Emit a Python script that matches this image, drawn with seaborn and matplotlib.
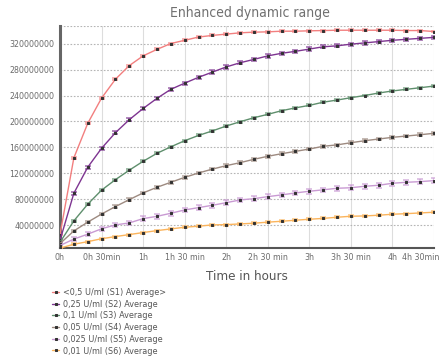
import matplotlib
matplotlib.use('Agg')
import matplotlib.pyplot as plt
import matplotlib.transforms as mtransforms
import seaborn as sns
import pandas as pd

# time in minutes, one reading every 10 min
minutes = [0, 10, 20, 30, 40, 50, 60, 70, 80, 90, 100, 110, 120, 130,
           140, 150, 160, 170, 180, 190, 200, 210, 220, 230, 240, 250, 260, 270]

labels = ['<0,5 U/ml (S1) Average>', '0,25 U/ml (S2) Average', '0,1 U/ml (S3) Average',
          '0,05 U/ml (S4) Average', '0,025 U/ml (S5) Average', '0,01 U/ml (S6) Average']

# values in millions
s1 = [26, 144, 197, 236, 265, 286, 301, 311, 320, 325, 330, 332.5, 334.5, 336.5,
      337.5, 338, 339, 339, 339.6, 340, 340.5, 340.5, 340.5, 340.5, 340.5, 340, 340, 338.5]
s2 = [17, 89.5, 129.5, 158.7, 182.7, 202.7, 220, 235.6, 249.5, 259, 268, 276, 284, 290.4,
      295.6, 301, 305, 308, 311.5, 315, 316.5, 319, 321, 323, 325, 326.5, 328, 329.5]
s3 = [14, 47, 72.6, 94.3, 110.4, 125, 138.7, 151, 161, 170.4, 178.5, 185.5, 193, 199.6,
      205.8, 211, 216.6, 221, 224.8, 229.7, 233, 236.6, 240, 243.8, 247, 249.5, 252, 254.5]
s4 = [12, 31.5, 45, 57.5, 69, 79.7, 90, 98.7, 106.4, 114, 120.7, 126.7, 132, 136.6,
      141.8, 146.4, 150.4, 154, 157.6, 161.8, 164, 167.3, 170.4, 173, 175.6, 177.6, 179.6, 181.8]
s5 = [9, 19, 26.5, 34.8, 40.8, 43.8, 50.5, 54, 58.7, 63.8, 67.4, 71, 75, 79.2,
      81.2, 84.3, 87, 90, 92.6, 94.8, 97.2, 98, 100.3, 101.8, 104.9, 106.4, 107.4, 109]
s6 = [5, 11, 15, 19.5, 22.8, 25.9, 29, 32, 34.6, 37.2, 38.8, 40.8, 41.2, 42.3,
      43.4, 45, 46.4, 48, 49.5, 50.8, 52.6, 54.1, 54.6, 55.7, 57.2, 58.1, 59.2, 60.3]

# half width of the error bars, millions
errors = [1.5, 2.5, 1.5, 2, 3.5, 1.5]

colors = ['#f27f7f', '#7e3591', '#5f8f6d', '#9d8a80', '#c99ad3', '#fbb45c']

tick_pos = [0, 30, 60, 90, 120, 150, 180, 210, 240, 270]
tick_labels = ['0h', '0h 30min', '1h', '1h 30 min', '2h', '2h 30 min',
               '3h', '3h 30 min', '4h', '4h 30min']
y_ticks = [40, 80, 120, 160, 200, 240, 280, 320]

sns.set_style('white')
plt.rcParams['font.family'] = ['DejaVu Sans']
plt.rcParams['font.stretch'] = 'condensed'
grey = '#6b6b6b'

fig = plt.figure(figsize=(4.42, 3.6), dpi=100)
ax = fig.add_axes([60 / 442, 1 - 247.5 / 360, 374 / 442, 221.5 / 360])

series = [s1, s2, s3, s4, s5, s6]
for vals, lab, col, err in zip(series, labels, colors, errors):
    df = pd.DataFrame({'t': minutes, 'v': [v * 1e6 for v in vals]})
    ax.errorbar(df['t'], df['v'], yerr=err * 1e6, fmt='none', ecolor=col,
                elinewidth=1.6, capsize=2.5, capthick=1.4, alpha=0.6, zorder=3)
    sns.lineplot(data=df, x='t', y='v', ax=ax, color=col, linewidth=1.0,
                 marker='s', markersize=1.5, markerfacecolor='#333333',
                 markeredgecolor='#333333', label=lab, zorder=4)

ax.set_xlim(0, 270)
ax.set_ylim(6e6, 347e6)
ax.set_xticks(tick_pos)
ax.set_xticklabels(tick_labels)
ax.set_yticks([v * 1e6 for v in y_ticks])
ax.set_yticklabels([str(v * 1000000) for v in y_ticks])
ax.tick_params(axis='both', length=0, labelsize=6.3, colors=grey, pad=4)

# last tick label sits inside the figure edge, as in the original
last = ax.get_xticklabels()[-1]
last.set_horizontalalignment('right')
last.set_transform(last.get_transform() +
                   mtransforms.ScaledTranslation(5 / 100, 0, fig.dpi_scale_trans))

ax.xaxis.grid(True, color='#dddddd', linewidth=0.8, linestyle='-')
ax.yaxis.grid(True, color='#b5b5b5', linewidth=0.8, linestyle=(0, (1.5, 1.5)))
ax.axhline(347e6, color='#b5b5b5', linewidth=0.8, linestyle=(0, (1.5, 1.5)), zorder=1)

for side in ['top', 'right']:
    ax.spines[side].set_visible(False)
ax.spines['left'].set_color('#666666')
ax.spines['left'].set_linewidth(2.2)
ax.spines['bottom'].set_color('#555555')
ax.spines['bottom'].set_linewidth(1.5)

ax.set_xlabel('Time in hours', fontsize=9.5, color='#555555', labelpad=6)
ax.set_ylabel('')
fig.text(0.565, 0.965, 'Enhanced dynamic range', ha='center', va='center',
         fontsize=10, color='#707070')

leg = ax.legend(loc='upper left', bbox_to_anchor=(52 / 442, 1 - 288 / 360),
                bbox_transform=fig.transFigure, frameon=False, fontsize=6.5,
                handlelength=0.8, handletextpad=0.4, labelspacing=0.3,
                borderaxespad=0, borderpad=0)
for t in leg.get_texts():
    t.set_color('#555555')

fig.savefig('out.png', dpi=100)
